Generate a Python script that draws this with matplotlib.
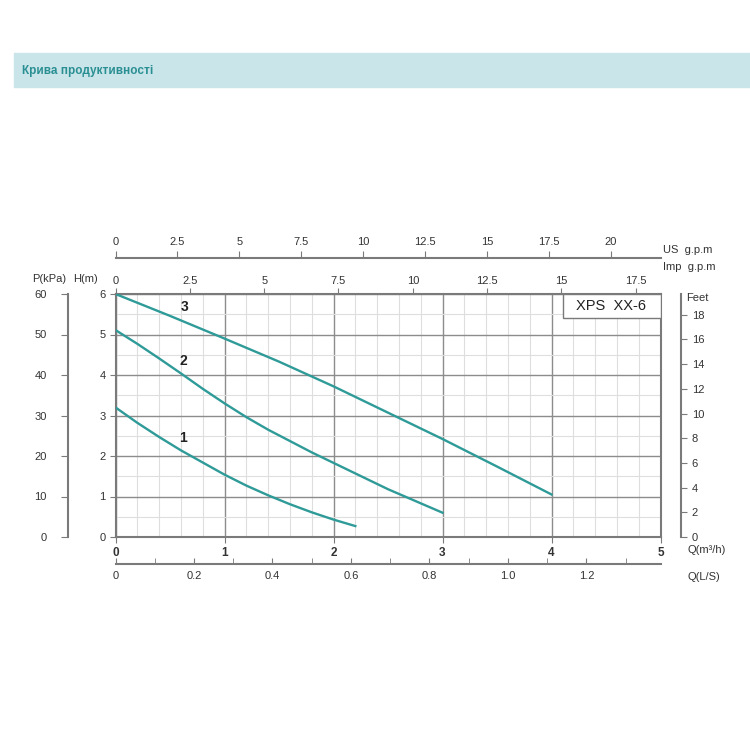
import matplotlib
matplotlib.use('Agg')
import matplotlib.pyplot as plt
from matplotlib.patches import Rectangle
from matplotlib.ticker import MultipleLocator

plt.rcParams['font.family'] = ['Liberation Sans', 'DejaVu Sans']

# curves: Q in m3/h, H in m
q1 = [0, 0.2, 0.4, 0.6, 0.8, 1.0, 1.2, 1.4, 1.6, 1.8, 2.0, 2.2]
h1 = [3.2, 2.82, 2.47, 2.14, 1.84, 1.54, 1.27, 1.03, 0.81, 0.61, 0.43, 0.27]
q2 = [0, 0.2, 0.4, 0.6, 0.8, 1.0, 1.2, 1.4, 1.6, 1.8, 2.0, 2.2, 2.5, 3.0]
h2 = [5.11, 4.77, 4.41, 4.04, 3.66, 3.30, 2.96, 2.65, 2.37, 2.09, 1.83, 1.57, 1.18, 0.6]
q3 = [0, 0.5, 1.0, 1.5, 2.0, 2.5, 3.0, 3.5, 4.0]
h3 = [6.0, 5.46, 4.9, 4.33, 3.72, 3.07, 2.42, 1.74, 1.05]
curve_names = ['1', '2', '3']
label_q = [0.62, 0.62, 0.63]
label_h = [2.44, 4.35, 5.69]

us_ticks = [0, 2.5, 5, 7.5, 10, 12.5, 15, 17.5, 20]
us_labels = ['0', '2.5', '5', '7.5', '10', '12.5', '15', '17.5', '20']
imp_ticks = [0, 2.5, 5, 7.5, 10, 12.5, 15, 17.5]
imp_labels = ['0', '2.5', '5', '7.5', '10', '12.5', '15', '17.5']
ls_ticks = [0, 0.2, 0.4, 0.6, 0.8, 1.0, 1.2]
ls_labels = ['0', '0.2', '0.4', '0.6', '0.8', '1.0', '1.2']
kpa_ticks = [0, 10, 20, 30, 40, 50, 60]
feet_ticks = [0, 2, 4, 6, 8, 10, 12, 14, 16, 18]

teal = '#2f9b98'
txt = '#333333'
axcol = '#7a7a7a'
W = 750.0

fig = plt.figure(figsize=(7.5, 7.5), dpi=100)

# header band
fig.patches.append(Rectangle((14 / W, 1 - 87 / W), (W - 14) / W, 34 / W,
                             transform=fig.transFigure, color='#c9e5ea', zorder=0))
fig.text(22 / W, 1 - 71 / W, 'Крива продуктивності', color='#2a8f92',
         fontsize=8.5, fontweight='bold', va='center', ha='left',
         family=['Liberation Sans Narrow', 'Liberation Sans', 'DejaVu Sans'])

ax = fig.add_axes([115.5 / W, 1 - 537 / W, 545 / W, 243 / W])
ax.set_xlim(0, 5)
ax.set_ylim(0, 6)
ax.xaxis.set_major_locator(MultipleLocator(1))
ax.xaxis.set_minor_locator(MultipleLocator(0.2))
ax.yaxis.set_major_locator(MultipleLocator(1))
ax.yaxis.set_minor_locator(MultipleLocator(0.5))
ax.grid(which='minor', color='#dedede', lw=0.8)
ax.grid(which='major', color='#8c8c8c', lw=1.0)
ax.set_axisbelow(True)
for s in ax.spines.values():
    s.set_color(axcol)
    s.set_linewidth(1.5)
ax.tick_params(which='minor', length=0)
ax.tick_params(which='major', length=4, color=axcol, labelsize=8, labelcolor=txt, pad=3)
ax.tick_params(axis='x', labelsize=8.5)
for lab in ax.get_xticklabels():
    lab.set_fontweight('bold')

for q, h in [(q1, h1), (q2, h2), (q3, h3)]:
    ax.plot(q, h, color=teal, lw=1.7, zorder=3)
for name, x, y in zip(curve_names, label_q, label_h):
    ax.text(x, y, name, fontsize=10, fontweight='bold', color='#222222',
            ha='center', va='center')

# model box
ax.add_patch(Rectangle((0.8206, 0.901), 0.1794, 0.099, transform=ax.transAxes,
                       facecolor='white', edgecolor=axcol, lw=1.0, zorder=4))
ax.text(0.91, 0.95, 'XPS  XX-6', transform=ax.transAxes, fontsize=10.5,
        color='#222222', ha='center', va='center', zorder=5)

# top axes (gallons per minute)
imp = ax.secondary_xaxis('top', functions=(lambda q: q * 3.666, lambda g: g / 3.666))
imp.set_xticks(imp_ticks, imp_labels)
imp.tick_params(length=4, color=axcol, labelsize=8, labelcolor=txt, pad=2)
imp.spines['top'].set_visible(False)

us = ax.secondary_xaxis(1 + 36 / 243, functions=(lambda q: q * 4.403, lambda g: g / 4.403))
us.set_xticks(us_ticks, us_labels)
us.tick_params(length=5, color=axcol, labelsize=8, labelcolor=txt, pad=3)
us.spines['top'].set_color(axcol)
us.spines['top'].set_linewidth(1.5)

# bottom axis in L/s
ls = ax.secondary_xaxis(-27 / 243, functions=(lambda q: q / 3.6, lambda l: l * 3.6))
ls.set_xticks(ls_ticks, ls_labels)
ls.xaxis.set_minor_locator(MultipleLocator(0.1))
ls.tick_params(which='both', direction='in', length=4, color=axcol,
               labelsize=8, labelcolor=txt, pad=5)
ls.spines['bottom'].set_color(axcol)
ls.spines['bottom'].set_linewidth(1.5)

# pressure axis on the left
kpa = ax.secondary_yaxis(-(115.5 - 67.7) / 545, functions=(lambda h: h * 10, lambda p: p / 10))
kpa.set_yticks(kpa_ticks)
kpa.tick_params(length=5, color=axcol, labelsize=8, labelcolor=txt, pad=10)
kpa.spines['left'].set_color(axcol)
kpa.spines['left'].set_linewidth(1.5)

# feet axis on the right
ft = ax.secondary_yaxis(1 + 20.2 / 545, functions=(lambda h: h * 3.281, lambda f: f / 3.281))
ft.set_yticks(feet_ticks)
ft.tick_params(length=4, color=axcol, labelsize=8, labelcolor=txt, pad=4)
ft.spines['right'].set_color(axcol)
ft.spines['right'].set_linewidth(1.5)

# axis names
fig.text(49 / W, 1 - 279 / W, 'P(kPa)', fontsize=8, color=txt, ha='center', va='center')
fig.text(86 / W, 1 - 279 / W, 'H(m)', fontsize=8, color=txt, ha='center', va='center')
fig.text(663 / W, 1 - 250 / W, 'US  g.p.m', fontsize=8, color=txt, ha='left', va='center')
fig.text(663 / W, 1 - 267 / W, 'Imp  g.p.m', fontsize=8, color=txt, ha='left', va='center')
fig.text(686 / W, 1 - 298 / W, 'Feet', fontsize=8, color=txt, ha='left', va='center')
fig.text(688 / W, 1 - 550 / W, 'Q(m³/h)', fontsize=8, color=txt, ha='left', va='center')
fig.text(688 / W, 1 - 577 / W, 'Q(L/S)', fontsize=8, color=txt, ha='left', va='center')

fig.savefig('out.png', dpi=100, facecolor='white')
